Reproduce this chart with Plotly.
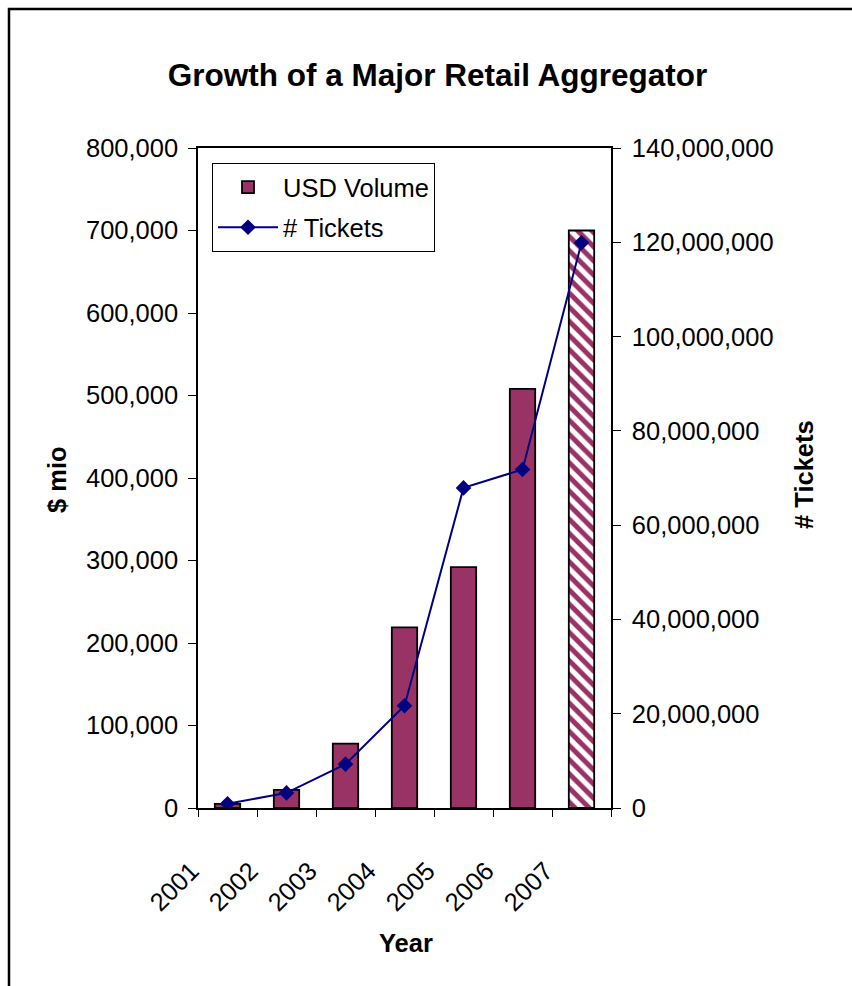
import plotly.graph_objects as go

years = ["2001", "2002", "2003", "2004", "2005", "2006", "2007"]
usd_volume = [5000, 22000, 78000, 219000, 292000, 508000, 700000]
tickets = [900000, 3200000, 9300000, 21700000, 67900000, 71800000, 119900000]
pattern_shapes = ["", "", "", "", "", "", "\\"]

W, H = 852, 986
L, R, T, B = 198, 611, 148, 808
FONT = "Liberation Sans, Arial, sans-serif"
PLUM = "#993366"
NAVY = "#000080"
FS = 25.5


def px_x(p):
    return (p - L) / (R - L)


def px_y(p):
    return (B - p) / (B - T)


fig = go.Figure()
fig.add_trace(go.Bar(
    x=years, y=usd_volume, name="USD Volume", width=0.43, legendgroup="a",
    marker=dict(color=PLUM, line=dict(color="black", width=1.8),
                pattern=dict(shape=pattern_shapes, fgcolor=PLUM, bgcolor="white",
                             size=10, solidity=0.5, fgopacity=1)),
))
fig.add_trace(go.Scatter(
    x=years, y=tickets, name="# Tickets", yaxis="y2", mode="lines+markers", legendgroup="b",
    line=dict(color=NAVY, width=2),
    marker=dict(symbol="diamond", size=12, color=NAVY),
))

fig.update_layout(
    width=W, height=H,
    margin=dict(l=L, r=W - R, t=T, b=H - B, pad=0),
    paper_bgcolor="white", plot_bgcolor="white",
    font=dict(family=FONT, size=FS, color="black"),
    showlegend=True,
    legend=dict(x=px_x(212), y=px_y(163), xanchor="left", yanchor="top",
                bordercolor="black", borderwidth=1, bgcolor="white",
                font=dict(size=FS), itemwidth=60, tracegroupgap=4,
                entrywidth=236, entrywidthmode="pixels"),
    title=dict(text="<b>Growth of a Major Retail Aggregator</b>", x=437.5 / W, xref="container",
               y=1 - 75 / H, yref="container", xanchor="center", yanchor="middle",
               font=dict(size=31.5, family=FONT, color="black")),
    xaxis=dict(type="category", showline=True, linecolor="black", linewidth=1.5, mirror=True,
               ticks="outside", ticklen=7, tickcolor="black", tickson="boundaries",
               tickangle=-45, tickfont=dict(size=FS), showgrid=False, zeroline=False,
               ticklabelshift=-36, ticklabelstandoff=36),
    yaxis=dict(range=[0, 800000], dtick=100000, tickformat=",", showline=True,
               linecolor="black", linewidth=1.5, ticks="outside", ticklen=8, tickcolor="black",
               showgrid=False, zeroline=False, tickfont=dict(size=FS), ticklabelstandoff=5),
    yaxis2=dict(range=[0, 140000000], dtick=20000000, tickformat=",", overlaying="y",
                side="right", showline=True, linecolor="black", linewidth=1.5, ticks="outside",
                ticklen=8, tickcolor="black", showgrid=False, zeroline=False,
                tickfont=dict(size=FS), ticklabelstandoff=6),
    annotations=[
        dict(text="<b>$ mio</b>", x=px_x(57), y=px_y(480), xref="paper", yref="paper",
             textangle=-90, showarrow=False, font=dict(size=FS), xanchor="center", yanchor="middle"),
        dict(text="<b># Tickets</b>", x=px_x(804), y=px_y(475), xref="paper", yref="paper",
             textangle=-90, showarrow=False, font=dict(size=FS), xanchor="center", yanchor="middle"),
        dict(text="<b>Year</b>", x=px_x(406), y=px_y(943), xref="paper", yref="paper",
             showarrow=False, font=dict(size=FS), xanchor="center", yanchor="middle"),
    ],
    shapes=[
        dict(type="rect", xref="paper", yref="paper", x0=px_x(9), x1=px_x(880),
             y0=px_y(1010), y1=px_y(9), line=dict(color="black", width=2.5),
             fillcolor="rgba(0,0,0,0)", layer="below"),
    ],
)

fig.write_html("out.html")
